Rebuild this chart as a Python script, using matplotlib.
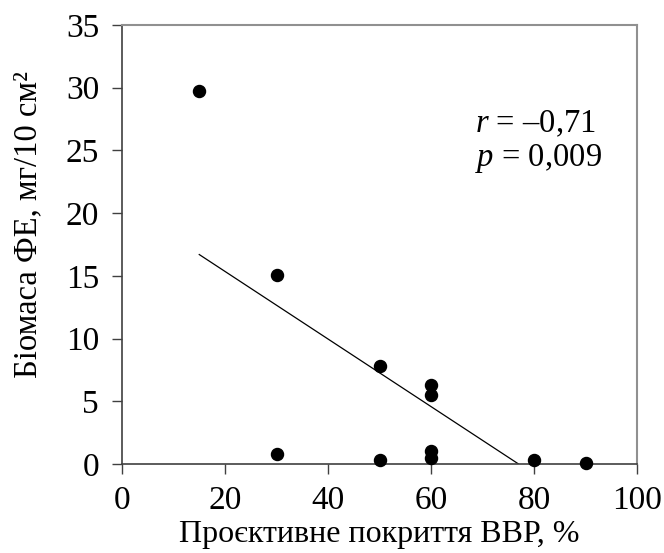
import matplotlib
matplotlib.use("Agg")
import matplotlib.pyplot as plt

plt.rcParams['font.family'] = ['Liberation Serif', 'DejaVu Serif']
plt.rcParams['mathtext.fontset'] = 'custom'
plt.rcParams['mathtext.rm'] = 'Liberation Serif'
plt.rcParams['mathtext.it'] = 'Liberation Serif:italic'

# data
cover = [15, 30, 30, 50, 50, 60, 60, 60, 60, 80, 90]
biomass = [29.7, 15.1, 0.8, 7.8, 0.3, 6.3, 5.5, 1.0, 0.5, 0.35, 0.05]
trend_x = [15, 77]
trend_y = [16.7, 0]
xticks = [0, 20, 40, 60, 80, 100]
yticks = [0, 5, 10, 15, 20, 25, 30, 35]

fig = plt.figure(figsize=(6.64, 5.53), dpi=100)
ax = fig.add_axes([122/664, 1-464/553, (637-122)/664, (464-25)/553])

ax.scatter(cover, biomass, s=75, color='black', zorder=3, clip_on=False)
ax.plot(trend_x, trend_y, color='black', lw=0.9)

ax.set_xlim(0, 100)
ax.set_ylim(0, 35)
ax.set_xticks(xticks)
ax.set_yticks(yticks)
ax.tick_params(direction='out', length=7.5, width=1, labelsize=24, color='#404040')
ax.tick_params(axis='y', pad=9)
ax.tick_params(axis='x', pad=8)

for s in ['left', 'bottom']:
    ax.spines[s].set_color('#404040')
    ax.spines[s].set_linewidth(1.2)
for s in ['top', 'right']:
    ax.spines[s].set_color('#909090')
    ax.spines[s].set_linewidth(1.5)

ax.set_xlabel('Проєктивне покриття ВВР, %', fontsize=23)
ax.set_ylabel('Біомаса ФЕ, мг/10 см²', fontsize=23.5, va='center')
ax.xaxis.set_label_coords(0.5, -0.127)
ax.yaxis.set_label_coords(-0.183, 0.545)

ax.text(0.685, 0.775, '$r$ = –0,71', transform=ax.transAxes, fontsize=23.5, va='center', ha='left')
ax.text(0.685, 0.695, '$p$ = 0,009', transform=ax.transAxes, fontsize=23.5, va='center', ha='left')

fig.savefig('out.png', dpi=100)
